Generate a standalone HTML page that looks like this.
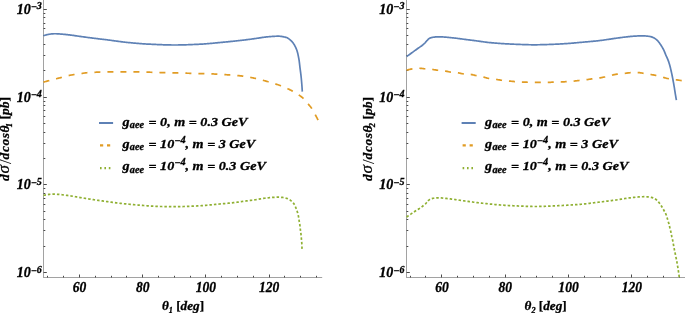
<!DOCTYPE html>
<html><head><meta charset="utf-8"><title>plot</title>
<style>
html,body{margin:0;padding:0;background:#fff;overflow:hidden}
svg{display:block}
text{font-family:"Liberation Serif","DejaVu Serif",serif;font-weight:bold;font-style:italic;fill:#000;stroke:#000;stroke-width:0.3px}
.u{font-style:normal;stroke-width:0.25px}
.ls1{letter-spacing:0.5px}
.rg{font-weight:normal;stroke-width:0.2px}
.sl{font-weight:normal;font-style:normal;stroke-width:0.1px}
.ax path{stroke:#a2a2a2;stroke-width:1;fill:none}
.ax .tk path{stroke:#4a4a4a}
</style></head><body>
<svg width="685" height="313" viewBox="0 0 685 313">
<rect width="685" height="313" fill="#fff"/>
<g class="ax">
<g><path d="M43.50,0 V278.00" />
<path d="M43.00,277.50 H322.20" /></g>
<g class="tk"><path d="M43.50,272.50 h3.3" />
<path d="M43.50,246.50 h1.8" />
<path d="M43.50,230.50 h1.8" />
<path d="M43.50,219.50 h1.8" />
<path d="M43.50,211.50 h1.8" />
<path d="M43.50,204.50 h1.8" />
<path d="M43.50,198.50 h1.8" />
<path d="M43.50,193.50 h1.8" />
<path d="M43.50,188.50 h1.8" />
<path d="M43.50,184.50 h3.3" />
<path d="M43.50,158.50 h1.8" />
<path d="M43.50,143.50 h1.8" />
<path d="M43.50,132.50 h1.8" />
<path d="M43.50,123.50 h1.8" />
<path d="M43.50,116.50 h1.8" />
<path d="M43.50,110.50 h1.8" />
<path d="M43.50,105.50 h1.8" />
<path d="M43.50,101.50 h1.8" />
<path d="M43.50,97.50 h3.3" />
<path d="M43.50,70.50 h1.8" />
<path d="M43.50,55.50 h1.8" />
<path d="M43.50,44.50 h1.8" />
<path d="M43.50,35.50 h1.8" />
<path d="M43.50,28.50 h1.8" />
<path d="M43.50,23.50 h1.8" />
<path d="M43.50,17.50 h1.8" />
<path d="M43.50,13.50 h1.8" />
<path d="M43.50,9.50 h3.3" />
<path d="M47.50,277.50 v-1.7" />
<path d="M63.50,277.50 v-1.7" />
<path d="M79.50,277.50 v-3.0" />
<path d="M95.50,277.50 v-1.7" />
<path d="M111.50,277.50 v-1.7" />
<path d="M126.50,277.50 v-1.7" />
<path d="M142.50,277.50 v-3.0" />
<path d="M158.50,277.50 v-1.7" />
<path d="M174.50,277.50 v-1.7" />
<path d="M190.50,277.50 v-1.7" />
<path d="M205.50,277.50 v-3.0" />
<path d="M221.50,277.50 v-1.7" />
<path d="M237.50,277.50 v-1.7" />
<path d="M253.50,277.50 v-1.7" />
<path d="M269.50,277.50 v-3.0" />
<path d="M284.50,277.50 v-1.7" />
<path d="M300.50,277.50 v-1.7" />
<path d="M316.50,277.50 v-1.7" /></g>
<g><path d="M406.50,0 V278.00" />
<path d="M406.00,277.50 H685.00" /></g>
<g class="tk"><path d="M406.50,272.50 h3.3" />
<path d="M406.50,246.50 h1.8" />
<path d="M406.50,230.50 h1.8" />
<path d="M406.50,219.50 h1.8" />
<path d="M406.50,211.50 h1.8" />
<path d="M406.50,204.50 h1.8" />
<path d="M406.50,198.50 h1.8" />
<path d="M406.50,193.50 h1.8" />
<path d="M406.50,188.50 h1.8" />
<path d="M406.50,184.50 h3.3" />
<path d="M406.50,158.50 h1.8" />
<path d="M406.50,143.50 h1.8" />
<path d="M406.50,132.50 h1.8" />
<path d="M406.50,123.50 h1.8" />
<path d="M406.50,116.50 h1.8" />
<path d="M406.50,110.50 h1.8" />
<path d="M406.50,105.50 h1.8" />
<path d="M406.50,101.50 h1.8" />
<path d="M406.50,97.50 h3.3" />
<path d="M406.50,70.50 h1.8" />
<path d="M406.50,55.50 h1.8" />
<path d="M406.50,44.50 h1.8" />
<path d="M406.50,35.50 h1.8" />
<path d="M406.50,28.50 h1.8" />
<path d="M406.50,23.50 h1.8" />
<path d="M406.50,17.50 h1.8" />
<path d="M406.50,13.50 h1.8" />
<path d="M406.50,9.50 h3.3" />
<path d="M410.50,277.50 v-1.7" />
<path d="M425.50,277.50 v-1.7" />
<path d="M441.50,277.50 v-3.0" />
<path d="M457.50,277.50 v-1.7" />
<path d="M473.50,277.50 v-1.7" />
<path d="M489.50,277.50 v-1.7" />
<path d="M505.50,277.50 v-3.0" />
<path d="M520.50,277.50 v-1.7" />
<path d="M536.50,277.50 v-1.7" />
<path d="M552.50,277.50 v-1.7" />
<path d="M568.50,277.50 v-3.0" />
<path d="M584.50,277.50 v-1.7" />
<path d="M600.50,277.50 v-1.7" />
<path d="M615.50,277.50 v-1.7" />
<path d="M631.50,277.50 v-3.0" />
<path d="M647.50,277.50 v-1.7" />
<path d="M663.50,277.50 v-1.7" />
<path d="M679.50,277.50 v-1.7" /></g>
</g>
<g>
<path d="M43.50,35.80 L44.22,35.53 L44.94,35.28 L45.66,35.05 L46.39,34.85 L47.12,34.67 L47.86,34.51 L48.61,34.36 L49.36,34.22 L50.11,34.10 L50.86,34.01 L51.62,33.94 L52.38,33.87 L53.13,33.82 L53.89,33.77 L54.65,33.75 L55.41,33.75 L56.17,33.77 L56.93,33.81 L57.69,33.85 L58.45,33.90 L59.20,33.95 L59.96,34.00 L60.72,34.05 L61.47,34.11 L62.23,34.17 L62.99,34.23 L63.74,34.31 L64.50,34.38 L65.26,34.46 L66.01,34.54 L66.77,34.63 L67.52,34.71 L68.28,34.80 L69.03,34.89 L69.78,34.97 L70.54,35.06 L71.29,35.16 L72.04,35.26 L72.80,35.36 L73.55,35.46 L74.30,35.57 L75.05,35.68 L75.80,35.79 L76.55,35.90 L77.30,36.01 L78.06,36.12 L78.81,36.23 L79.56,36.34 L80.31,36.44 L81.06,36.55 L81.82,36.65 L82.57,36.75 L83.32,36.85 L84.07,36.96 L84.83,37.06 L85.58,37.16 L86.33,37.26 L87.08,37.36 L87.84,37.47 L88.59,37.57 L89.34,37.67 L90.09,37.76 L90.85,37.86 L91.60,37.96 L92.35,38.06 L93.11,38.15 L93.86,38.25 L94.61,38.34 L95.37,38.43 L96.12,38.52 L96.87,38.61 L97.63,38.70 L98.38,38.79 L99.14,38.88 L99.89,38.97 L100.64,39.06 L101.40,39.15 L102.15,39.24 L102.91,39.33 L103.66,39.42 L104.41,39.51 L105.17,39.60 L105.92,39.69 L106.68,39.78 L107.43,39.88 L108.18,39.98 L108.94,40.08 L109.69,40.18 L110.44,40.28 L111.19,40.38 L111.95,40.48 L112.70,40.59 L113.45,40.69 L114.20,40.80 L114.96,40.90 L115.71,41.00 L116.46,41.11 L117.21,41.21 L117.97,41.31 L118.72,41.42 L119.47,41.52 L120.23,41.61 L120.98,41.71 L121.73,41.81 L122.48,41.90 L123.24,41.99 L123.99,42.08 L124.75,42.17 L125.50,42.25 L126.25,42.33 L127.01,42.41 L127.76,42.49 L128.52,42.56 L129.27,42.63 L130.03,42.70 L130.79,42.77 L131.54,42.84 L132.30,42.91 L133.05,42.98 L133.81,43.05 L134.57,43.12 L135.32,43.19 L136.08,43.25 L136.84,43.31 L137.59,43.38 L138.35,43.44 L139.11,43.50 L139.87,43.56 L140.62,43.62 L141.38,43.68 L142.14,43.73 L142.90,43.78 L143.65,43.84 L144.41,43.89 L145.17,43.94 L145.93,43.98 L146.69,44.03 L147.44,44.07 L148.20,44.11 L148.96,44.15 L149.72,44.19 L150.48,44.22 L151.23,44.26 L151.99,44.29 L152.75,44.33 L153.51,44.36 L154.27,44.40 L155.03,44.43 L155.78,44.47 L156.54,44.50 L157.30,44.54 L158.06,44.57 L158.82,44.60 L159.58,44.63 L160.34,44.67 L161.10,44.70 L161.86,44.72 L162.62,44.75 L163.37,44.78 L164.13,44.81 L164.89,44.83 L165.65,44.85 L166.41,44.88 L167.17,44.90 L167.93,44.92 L168.69,44.93 L169.45,44.95 L170.21,44.96 L170.97,44.97 L171.73,44.98 L172.48,44.99 L173.24,45.00 L174.00,45.00 L174.76,45.00 L175.52,45.00 L176.28,44.99 L177.04,44.99 L177.80,44.98 L178.56,44.97 L179.32,44.96 L180.08,44.95 L180.83,44.93 L181.59,44.92 L182.35,44.90 L183.11,44.88 L183.87,44.86 L184.63,44.84 L185.39,44.81 L186.15,44.79 L186.91,44.76 L187.67,44.73 L188.43,44.71 L189.19,44.68 L189.95,44.65 L190.70,44.62 L191.46,44.59 L192.22,44.55 L192.98,44.52 L193.74,44.49 L194.50,44.45 L195.26,44.42 L196.02,44.38 L196.77,44.35 L197.53,44.31 L198.29,44.28 L199.05,44.24 L199.81,44.21 L200.56,44.17 L201.32,44.13 L202.08,44.09 L202.84,44.04 L203.59,43.99 L204.35,43.94 L205.11,43.89 L205.87,43.83 L206.62,43.77 L207.38,43.71 L208.14,43.65 L208.89,43.58 L209.65,43.51 L210.41,43.44 L211.16,43.38 L211.92,43.30 L212.68,43.23 L213.43,43.16 L214.19,43.09 L214.94,43.01 L215.70,42.94 L216.46,42.87 L217.21,42.79 L217.97,42.72 L218.72,42.65 L219.48,42.58 L220.24,42.51 L220.99,42.44 L221.75,42.36 L222.50,42.29 L223.26,42.22 L224.02,42.15 L224.77,42.07 L225.53,42.00 L226.28,41.93 L227.04,41.85 L227.79,41.78 L228.55,41.70 L229.31,41.62 L230.06,41.55 L230.82,41.47 L231.57,41.39 L232.33,41.31 L233.08,41.23 L233.84,41.15 L234.59,41.07 L235.35,40.99 L236.10,40.91 L236.86,40.83 L237.61,40.75 L238.37,40.66 L239.12,40.58 L239.88,40.49 L240.63,40.41 L241.39,40.32 L242.14,40.24 L242.89,40.15 L243.65,40.06 L244.40,39.97 L245.16,39.88 L245.91,39.79 L246.66,39.70 L247.42,39.61 L248.17,39.52 L248.92,39.42 L249.68,39.32 L250.43,39.22 L251.18,39.12 L251.93,39.02 L252.69,38.92 L253.44,38.81 L254.19,38.71 L254.94,38.61 L255.70,38.50 L256.45,38.39 L257.20,38.28 L257.95,38.16 L258.70,38.04 L259.45,37.92 L260.20,37.80 L260.95,37.69 L261.71,37.57 L262.46,37.45 L263.21,37.34 L263.96,37.24 L264.71,37.14 L265.46,37.04 L266.22,36.96 L266.97,36.88 L267.73,36.81 L268.48,36.75 L269.24,36.69 L270.00,36.62 L270.75,36.56 L271.51,36.50 L272.27,36.45 L273.03,36.39 L273.79,36.34 L274.55,36.30 L275.31,36.26 L276.07,36.24 L276.83,36.21 L277.58,36.20 L278.34,36.20 L279.10,36.22 L279.87,36.27 L280.64,36.34 L281.41,36.44 L282.18,36.55 L282.94,36.68 L283.69,36.82 L284.43,36.98 L285.15,37.14 L285.85,37.31 L286.54,37.54 L287.23,37.84 L287.91,38.21 L288.57,38.64 L289.22,39.10 L289.84,39.59 L290.42,40.09 L290.98,40.58 L291.50,41.09 L292.01,41.64 L292.51,42.22 L292.98,42.83 L293.43,43.47 L293.86,44.12 L294.27,44.77 L294.65,45.43 L295.00,46.08 L295.35,46.75 L295.68,47.44 L295.99,48.13 L296.29,48.84 L296.58,49.55 L296.84,50.27 L297.09,50.99 L297.32,51.72 L297.52,52.44 L297.71,53.17 L297.87,53.92 L298.03,54.66 L298.18,55.41 L298.33,56.15 L298.48,56.90 L298.62,57.64 L298.77,58.39 L298.90,59.14 L299.03,59.89 L299.15,60.64 L299.25,61.39 L299.35,62.14 L299.44,62.89 L299.53,63.65 L299.61,64.40 L299.70,65.16 L299.78,65.91 L299.86,66.67 L299.95,67.42 L300.04,68.18 L300.14,68.93 L300.24,69.68 L300.34,70.44 L300.44,71.19 L300.54,71.94 L300.64,72.69 L300.73,73.45 L300.82,74.20 L300.91,74.95 L301.00,75.71 L301.08,76.46 L301.16,77.22 L301.24,77.97 L301.32,78.73 L301.39,79.49 L301.46,80.24 L301.53,81.00 L301.59,81.75 L301.66,82.51 L301.72,83.27 L301.78,84.02 L301.84,84.78 L301.90,85.54 L301.96,86.29 L302.01,87.05 L302.06,87.81 L302.12,88.57 L302.17,89.33 L302.21,90.08 L302.26,90.84 L302.30,91.60" stroke="#5E81B5" stroke-width="1.7" fill="none" stroke-linejoin="round"/>
<path d="M43.50,82.10 L44.21,81.90 L44.93,81.71 L45.64,81.52 L46.36,81.32 L47.07,81.13 L47.79,80.94 L48.50,80.75 L49.22,80.56 L49.93,80.38 L50.65,80.19 L51.37,80.01 L52.08,79.82 L52.80,79.64 L53.52,79.46 L54.23,79.28 L54.95,79.09 L55.67,78.91 L56.39,78.73 L57.10,78.54 L57.82,78.36 L58.54,78.18 L59.25,78.00 L59.97,77.82 L60.69,77.63 L61.41,77.45 L62.12,77.26 L62.84,77.07 L63.55,76.88 L64.27,76.68 L64.98,76.48 L65.69,76.29 L66.41,76.10 L67.13,75.92 L67.85,75.75 L68.57,75.59 L69.29,75.43 L70.02,75.28 L70.74,75.14 L71.47,75.00 L72.20,74.87 L72.93,74.74 L73.66,74.62 L74.39,74.50 L75.12,74.39 L75.85,74.29 L76.58,74.19 L77.32,74.09 L78.05,74.00 L78.79,73.90 L79.52,73.81 L80.25,73.71 L80.99,73.62 L81.72,73.51 L82.45,73.39 L83.18,73.27 L83.92,73.15 L84.65,73.03 L85.38,72.92 L86.11,72.82 L86.85,72.74 L87.58,72.68 L88.32,72.63 L89.06,72.59 L89.79,72.55 L90.53,72.52 L91.27,72.48 L92.01,72.45 L92.75,72.42 L93.49,72.39 L94.23,72.35 L94.97,72.31 L95.71,72.26 L96.45,72.21 L97.19,72.16 L97.93,72.12 L98.67,72.07 L99.40,72.04 L100.14,72.00 L100.88,71.97 L101.62,71.94 L102.36,71.91 L103.10,71.89 L103.84,71.86 L104.58,71.84 L105.32,71.82 L106.06,71.81 L106.80,71.80 L107.54,71.80 L108.28,71.80 L109.02,71.80 L109.76,71.80 L110.50,71.80 L111.24,71.80 L111.98,71.80 L112.72,71.80 L113.46,71.80 L114.20,71.80 L114.94,71.80 L115.68,71.80 L116.42,71.80 L117.16,71.80 L117.90,71.80 L118.64,71.80 L119.38,71.80 L120.12,71.80 L120.86,71.80 L121.60,71.80 L122.34,71.80 L123.08,71.80 L123.82,71.80 L124.56,71.80 L125.30,71.80 L126.04,71.81 L126.78,71.81 L127.52,71.82 L128.26,71.82 L129.00,71.83 L129.74,71.83 L130.48,71.84 L131.22,71.85 L131.96,71.85 L132.70,71.86 L133.44,71.87 L134.18,71.88 L134.92,71.89 L135.66,71.90 L136.40,71.90 L137.14,71.92 L137.88,71.93 L138.62,71.94 L139.36,71.95 L140.10,71.97 L140.84,71.99 L141.58,72.00 L142.32,72.02 L143.06,72.04 L143.80,72.06 L144.54,72.08 L145.28,72.10 L146.02,72.12 L146.76,72.14 L147.50,72.16 L148.24,72.18 L148.98,72.20 L149.72,72.22 L150.46,72.24 L151.20,72.26 L151.94,72.28 L152.68,72.31 L153.42,72.33 L154.16,72.36 L154.89,72.38 L155.63,72.40 L156.37,72.43 L157.11,72.45 L157.85,72.48 L158.59,72.50 L159.33,72.52 L160.07,72.55 L160.81,72.57 L161.55,72.59 L162.29,72.61 L163.03,72.63 L163.77,72.64 L164.51,72.66 L165.25,72.68 L165.99,72.70 L166.73,72.71 L167.47,72.73 L168.21,72.75 L168.95,72.76 L169.69,72.78 L170.43,72.79 L171.17,72.81 L171.91,72.83 L172.65,72.84 L173.39,72.86 L174.13,72.88 L174.87,72.90 L175.61,72.92 L176.35,72.93 L177.09,72.95 L177.83,72.97 L178.57,72.99 L179.31,73.01 L180.05,73.03 L180.79,73.05 L181.53,73.07 L182.27,73.09 L183.01,73.11 L183.75,73.13 L184.49,73.15 L185.22,73.17 L185.96,73.19 L186.70,73.21 L187.44,73.23 L188.18,73.25 L188.92,73.27 L189.66,73.29 L190.40,73.31 L191.14,73.33 L191.88,73.35 L192.62,73.37 L193.36,73.39 L194.10,73.41 L194.84,73.43 L195.58,73.45 L196.32,73.47 L197.06,73.49 L197.80,73.51 L198.54,73.53 L199.28,73.55 L200.02,73.57 L200.76,73.59 L201.50,73.61 L202.24,73.63 L202.98,73.66 L203.72,73.68 L204.46,73.70 L205.20,73.72 L205.94,73.74 L206.68,73.76 L207.42,73.78 L208.16,73.80 L208.90,73.82 L209.64,73.84 L210.38,73.87 L211.12,73.89 L211.86,73.92 L212.59,73.95 L213.33,73.97 L214.07,74.00 L214.81,74.04 L215.55,74.07 L216.29,74.11 L217.03,74.15 L217.77,74.19 L218.51,74.23 L219.25,74.28 L219.98,74.32 L220.72,74.37 L221.46,74.42 L222.20,74.47 L222.94,74.52 L223.68,74.57 L224.42,74.62 L225.15,74.67 L225.89,74.72 L226.63,74.77 L227.37,74.83 L228.11,74.87 L228.85,74.92 L229.58,74.97 L230.32,75.02 L231.06,75.07 L231.80,75.12 L232.54,75.17 L233.28,75.23 L234.02,75.28 L234.76,75.33 L235.49,75.39 L236.23,75.45 L236.97,75.51 L237.71,75.58 L238.44,75.65 L239.18,75.72 L239.91,75.79 L240.65,75.87 L241.38,75.96 L242.11,76.05 L242.85,76.14 L243.58,76.25 L244.31,76.35 L245.05,76.47 L245.78,76.58 L246.51,76.70 L247.24,76.83 L247.97,76.95 L248.70,77.09 L249.43,77.22 L250.16,77.35 L250.88,77.49 L251.61,77.63 L252.34,77.77 L253.06,77.91 L253.79,78.06 L254.51,78.21 L255.23,78.36 L255.95,78.53 L256.67,78.69 L257.39,78.86 L258.11,79.04 L258.83,79.22 L259.55,79.40 L260.27,79.58 L260.99,79.77 L261.70,79.96 L262.42,80.15 L263.13,80.34 L263.85,80.53 L264.56,80.73 L265.28,80.92 L265.99,81.12 L266.70,81.31 L267.42,81.51 L268.13,81.71 L268.84,81.91 L269.55,82.12 L270.27,82.33 L270.98,82.54 L271.69,82.75 L272.40,82.96 L273.10,83.18 L273.81,83.40 L274.52,83.63 L275.22,83.86 L275.92,84.09 L276.62,84.32 L277.32,84.56 L278.02,84.81 L278.71,85.05 L279.41,85.31 L280.10,85.56 L280.80,85.82 L281.49,86.09 L282.18,86.36 L282.87,86.63 L283.56,86.91 L284.24,87.20 L284.93,87.48 L285.61,87.78 L286.29,88.07 L286.97,88.37 L287.64,88.68 L288.31,88.99 L288.98,89.30 L289.64,89.62 L290.30,89.95 L290.96,90.28 L291.62,90.62 L292.27,90.96 L292.93,91.32 L293.58,91.68 L294.22,92.04 L294.87,92.42 L295.50,92.80 L296.14,93.18 L296.77,93.57 L297.39,93.97 L298.01,94.37 L298.62,94.78 L299.23,95.20 L299.84,95.63 L300.44,96.07 L301.03,96.52 L301.62,96.98 L302.18,97.45 L302.73,97.94 L303.26,98.44 L303.78,98.96 L304.29,99.50 L304.78,100.05 L305.27,100.61 L305.75,101.18 L306.23,101.75 L306.70,102.32 L307.18,102.89 L307.66,103.46 L308.15,104.01 L308.64,104.57 L309.13,105.13 L309.62,105.69 L310.09,106.26 L310.56,106.83 L311.00,107.42 L311.42,108.02 L311.83,108.63 L312.22,109.26 L312.60,109.89 L312.97,110.53 L313.34,111.18 L313.70,111.83 L314.06,112.48 L314.41,113.13 L314.77,113.78 L315.13,114.43 L315.48,115.08 L315.84,115.73 L316.19,116.38 L316.53,117.04 L316.88,117.69 L317.22,118.35 L317.55,119.01 L317.89,119.67 L318.22,120.33 L318.54,121.00 L318.86,121.66 L319.18,122.33 L319.50,123.00" stroke="#E19C24" stroke-width="1.7" stroke-dasharray="6 7" fill="none"/>
<path d="M43.50,195.40 L44.25,195.23 L44.99,195.08 L45.74,194.93 L46.49,194.79 L47.23,194.66 L47.98,194.54 L48.73,194.44 L49.47,194.34 L50.22,194.26 L50.97,194.20 L51.72,194.15 L52.46,194.12 L53.21,194.10 L53.96,194.10 L54.71,194.12 L55.46,194.15 L56.21,194.18 L56.96,194.23 L57.71,194.29 L58.46,194.36 L59.21,194.43 L59.97,194.51 L60.72,194.60 L61.47,194.69 L62.22,194.78 L62.97,194.88 L63.72,194.98 L64.47,195.08 L65.22,195.18 L65.97,195.27 L66.71,195.37 L67.46,195.46 L68.21,195.55 L68.95,195.66 L69.70,195.77 L70.44,195.88 L71.19,196.00 L71.93,196.12 L72.67,196.25 L73.42,196.37 L74.16,196.50 L74.90,196.63 L75.64,196.77 L76.39,196.90 L77.13,197.03 L77.87,197.16 L78.62,197.29 L79.36,197.41 L80.10,197.54 L80.85,197.66 L81.59,197.78 L82.33,197.90 L83.08,198.02 L83.82,198.14 L84.56,198.26 L85.31,198.38 L86.05,198.50 L86.80,198.62 L87.54,198.74 L88.28,198.86 L89.03,198.98 L89.77,199.09 L90.52,199.21 L91.26,199.33 L92.01,199.44 L92.75,199.56 L93.50,199.67 L94.24,199.78 L94.99,199.89 L95.73,200.00 L96.48,200.11 L97.22,200.22 L97.97,200.33 L98.71,200.43 L99.46,200.54 L100.21,200.65 L100.95,200.75 L101.70,200.85 L102.45,200.96 L103.19,201.06 L103.94,201.17 L104.68,201.27 L105.43,201.37 L106.18,201.47 L106.92,201.58 L107.67,201.68 L108.42,201.78 L109.16,201.88 L109.91,201.99 L110.66,202.09 L111.40,202.19 L112.15,202.30 L112.90,202.40 L113.64,202.50 L114.39,202.60 L115.14,202.70 L115.88,202.80 L116.63,202.89 L117.38,202.99 L118.13,203.08 L118.87,203.17 L119.62,203.26 L120.37,203.34 L121.12,203.43 L121.87,203.51 L122.62,203.59 L123.37,203.67 L124.12,203.75 L124.87,203.82 L125.62,203.90 L126.37,203.97 L127.12,204.05 L127.87,204.12 L128.62,204.19 L129.37,204.27 L130.12,204.34 L130.87,204.41 L131.62,204.48 L132.37,204.54 L133.12,204.61 L133.87,204.68 L134.62,204.75 L135.37,204.81 L136.12,204.88 L136.87,204.95 L137.62,205.01 L138.37,205.08 L139.12,205.15 L139.87,205.21 L140.62,205.27 L141.38,205.34 L142.13,205.40 L142.88,205.46 L143.63,205.52 L144.38,205.58 L145.13,205.63 L145.88,205.69 L146.63,205.74 L147.39,205.79 L148.14,205.83 L148.89,205.88 L149.64,205.93 L150.39,205.98 L151.15,206.03 L151.90,206.07 L152.65,206.12 L153.40,206.16 L154.16,206.21 L154.91,206.25 L155.66,206.29 L156.41,206.33 L157.17,206.36 L157.92,206.39 L158.67,206.42 L159.42,206.45 L160.18,206.48 L160.93,206.50 L161.68,206.51 L162.44,206.53 L163.19,206.55 L163.94,206.57 L164.70,206.58 L165.45,206.60 L166.20,206.61 L166.96,206.63 L167.71,206.64 L168.46,206.65 L169.22,206.66 L169.97,206.67 L170.72,206.68 L171.48,206.69 L172.23,206.69 L172.98,206.70 L173.74,206.70 L174.49,206.70 L175.24,206.70 L176.00,206.69 L176.75,206.68 L177.51,206.67 L178.26,206.65 L179.01,206.64 L179.77,206.62 L180.52,206.60 L181.27,206.58 L182.03,206.55 L182.78,206.53 L183.53,206.50 L184.28,206.48 L185.04,206.45 L185.79,206.43 L186.54,206.40 L187.30,206.38 L188.05,206.35 L188.80,206.33 L189.56,206.30 L190.31,206.27 L191.06,206.24 L191.82,206.21 L192.57,206.18 L193.32,206.15 L194.07,206.12 L194.83,206.08 L195.58,206.04 L196.33,206.01 L197.09,205.97 L197.84,205.92 L198.59,205.88 L199.34,205.84 L200.09,205.79 L200.84,205.75 L201.60,205.69 L202.35,205.64 L203.10,205.58 L203.85,205.52 L204.60,205.45 L205.35,205.39 L206.10,205.32 L206.85,205.24 L207.60,205.17 L208.35,205.10 L209.10,205.02 L209.85,204.95 L210.60,204.87 L211.35,204.80 L212.10,204.72 L212.85,204.65 L213.60,204.57 L214.35,204.50 L215.10,204.43 L215.85,204.36 L216.60,204.29 L217.35,204.22 L218.10,204.15 L218.85,204.09 L219.60,204.02 L220.35,203.95 L221.11,203.89 L221.86,203.82 L222.61,203.75 L223.36,203.68 L224.11,203.62 L224.86,203.55 L225.61,203.48 L226.36,203.41 L227.11,203.34 L227.86,203.26 L228.61,203.19 L229.36,203.11 L230.11,203.04 L230.86,202.96 L231.61,202.88 L232.36,202.80 L233.10,202.72 L233.85,202.63 L234.60,202.54 L235.35,202.45 L236.09,202.35 L236.84,202.25 L237.59,202.15 L238.34,202.05 L239.08,201.95 L239.83,201.85 L240.57,201.74 L241.32,201.64 L242.07,201.53 L242.81,201.43 L243.56,201.32 L244.31,201.22 L245.05,201.12 L245.80,201.02 L246.55,200.92 L247.29,200.82 L248.04,200.72 L248.79,200.63 L249.54,200.53 L250.28,200.44 L251.03,200.34 L251.78,200.24 L252.53,200.15 L253.27,200.04 L254.02,199.94 L254.76,199.83 L255.51,199.72 L256.25,199.60 L257.00,199.48 L257.74,199.35 L258.48,199.22 L259.22,199.08 L259.97,198.95 L260.71,198.82 L261.45,198.69 L262.19,198.57 L262.94,198.45 L263.68,198.34 L264.43,198.24 L265.18,198.15 L265.92,198.06 L266.67,197.98 L267.42,197.90 L268.17,197.82 L268.92,197.75 L269.67,197.67 L270.42,197.60 L271.17,197.53 L271.92,197.47 L272.68,197.41 L273.43,197.36 L274.18,197.32 L274.93,197.27 L275.69,197.23 L276.44,197.19 L277.19,197.16 L277.94,197.15 L278.70,197.16 L279.45,197.19 L280.21,197.23 L280.96,197.29 L281.71,197.36 L282.46,197.44 L283.20,197.53 L283.95,197.65 L284.70,197.81 L285.44,197.99 L286.16,198.20 L286.87,198.42 L287.57,198.67 L288.26,198.98 L288.93,199.33 L289.60,199.73 L290.23,200.15 L290.84,200.58 L291.42,201.04 L292.00,201.54 L292.55,202.08 L293.06,202.64 L293.54,203.23 L293.95,203.83 L294.33,204.47 L294.68,205.13 L295.01,205.82 L295.32,206.52 L295.62,207.22 L295.91,207.92 L296.20,208.62 L296.47,209.32 L296.74,210.03 L297.00,210.74 L297.23,211.45 L297.45,212.17 L297.66,212.89 L297.85,213.62 L298.03,214.36 L298.21,215.09 L298.37,215.83 L298.51,216.57 L298.64,217.31 L298.76,218.05 L298.87,218.80 L298.98,219.54 L299.09,220.29 L299.21,221.03 L299.33,221.78 L299.46,222.52 L299.58,223.26 L299.71,224.01 L299.82,224.75 L299.93,225.50 L300.02,226.24 L300.10,226.99 L300.18,227.74 L300.25,228.49 L300.33,229.24 L300.42,229.99 L300.52,230.74 L300.63,231.48 L300.73,232.23 L300.84,232.98 L300.93,233.72 L301.02,234.47 L301.09,235.22 L301.16,235.97 L301.22,236.72 L301.29,237.47 L301.35,238.22 L301.42,238.98 L301.49,239.73 L301.56,240.48 L301.63,241.23 L301.70,241.98 L301.76,242.73 L301.81,243.48 L301.85,244.23 L301.88,244.98 L301.91,245.74 L301.94,246.49 L301.97,247.24 L302.01,248.00 L302.05,248.75 L302.10,249.50" stroke="#8FB032" stroke-width="1.7" stroke-dasharray="2.5 2.01" fill="none"/>
<path d="M406.60,56.60 L407.26,56.13 L407.91,55.65 L408.57,55.18 L409.23,54.71 L409.88,54.23 L410.54,53.76 L411.19,53.28 L411.84,52.80 L412.50,52.33 L413.15,51.85 L413.80,51.37 L414.46,50.89 L415.11,50.41 L415.76,49.94 L416.42,49.46 L417.09,49.00 L417.76,48.53 L418.43,48.07 L419.10,47.61 L419.77,47.14 L420.44,46.67 L421.09,46.20 L421.74,45.72 L422.38,45.22 L423.01,44.72 L423.62,44.20 L424.22,43.67 L424.79,43.11 L425.33,42.51 L425.85,41.89 L426.38,41.27 L426.93,40.67 L427.50,40.08 L428.07,39.46 L428.67,38.88 L429.30,38.41 L429.98,38.08 L430.73,37.81 L431.52,37.57 L432.33,37.38 L433.14,37.24 L433.94,37.13 L434.74,37.04 L435.54,36.96 L436.35,36.89 L437.17,36.84 L437.98,36.81 L438.78,36.80 L439.59,36.81 L440.40,36.83 L441.21,36.86 L442.02,36.90 L442.82,36.95 L443.63,37.00 L444.44,37.06 L445.25,37.13 L446.05,37.20 L446.86,37.27 L447.67,37.35 L448.48,37.42 L449.28,37.50 L450.09,37.58 L450.89,37.65 L451.70,37.73 L452.50,37.81 L453.31,37.89 L454.11,37.98 L454.92,38.07 L455.72,38.17 L456.52,38.27 L457.33,38.37 L458.13,38.48 L458.93,38.58 L459.73,38.69 L460.54,38.80 L461.34,38.91 L462.14,39.02 L462.94,39.12 L463.75,39.23 L464.55,39.33 L465.35,39.43 L466.15,39.54 L466.96,39.64 L467.76,39.74 L468.56,39.84 L469.37,39.95 L470.17,40.05 L470.97,40.15 L471.77,40.26 L472.58,40.36 L473.38,40.46 L474.18,40.57 L474.98,40.67 L475.79,40.78 L476.59,40.88 L477.39,40.99 L478.19,41.10 L478.99,41.21 L479.80,41.32 L480.60,41.43 L481.40,41.55 L482.20,41.66 L483.00,41.77 L483.80,41.88 L484.61,41.99 L485.41,42.09 L486.21,42.19 L487.01,42.29 L487.82,42.38 L488.62,42.47 L489.43,42.55 L490.23,42.63 L491.04,42.71 L491.84,42.79 L492.65,42.86 L493.46,42.94 L494.26,43.01 L495.07,43.08 L495.88,43.15 L496.68,43.21 L497.49,43.27 L498.30,43.33 L499.10,43.39 L499.91,43.44 L500.72,43.49 L501.52,43.55 L502.33,43.60 L503.14,43.65 L503.95,43.70 L504.76,43.74 L505.56,43.79 L506.37,43.84 L507.18,43.88 L507.99,43.93 L508.80,43.97 L509.60,44.01 L510.41,44.05 L511.22,44.09 L512.03,44.13 L512.84,44.17 L513.65,44.21 L514.46,44.24 L515.26,44.27 L516.07,44.31 L516.88,44.34 L517.69,44.37 L518.50,44.40 L519.31,44.42 L520.12,44.45 L520.92,44.48 L521.73,44.51 L522.54,44.54 L523.35,44.57 L524.16,44.60 L524.97,44.62 L525.78,44.65 L526.59,44.67 L527.40,44.70 L528.21,44.72 L529.01,44.74 L529.82,44.76 L530.63,44.77 L531.44,44.78 L532.25,44.79 L533.06,44.80 L533.87,44.80 L534.68,44.80 L535.49,44.79 L536.30,44.79 L537.11,44.78 L537.91,44.77 L538.72,44.75 L539.53,44.74 L540.34,44.72 L541.15,44.70 L541.96,44.68 L542.77,44.66 L543.58,44.63 L544.39,44.61 L545.20,44.58 L546.01,44.56 L546.81,44.53 L547.62,44.50 L548.43,44.48 L549.24,44.45 L550.05,44.42 L550.86,44.39 L551.67,44.37 L552.48,44.34 L553.28,44.31 L554.09,44.27 L554.90,44.24 L555.71,44.20 L556.52,44.17 L557.33,44.13 L558.14,44.09 L558.94,44.04 L559.75,44.00 L560.56,43.96 L561.37,43.91 L562.18,43.87 L562.98,43.82 L563.79,43.77 L564.60,43.72 L565.41,43.67 L566.22,43.62 L567.02,43.56 L567.83,43.51 L568.64,43.46 L569.44,43.40 L570.25,43.33 L571.06,43.27 L571.86,43.20 L572.67,43.12 L573.47,43.05 L574.28,42.97 L575.09,42.90 L575.89,42.82 L576.70,42.74 L577.50,42.67 L578.31,42.59 L579.12,42.52 L579.92,42.44 L580.73,42.37 L581.53,42.30 L582.34,42.23 L583.15,42.16 L583.95,42.09 L584.76,42.02 L585.57,41.95 L586.37,41.88 L587.18,41.81 L587.99,41.74 L588.79,41.67 L589.60,41.59 L590.40,41.52 L591.21,41.45 L592.02,41.37 L592.82,41.30 L593.63,41.22 L594.43,41.14 L595.24,41.06 L596.04,40.98 L596.85,40.89 L597.65,40.80 L598.45,40.72 L599.26,40.62 L600.06,40.53 L600.86,40.43 L601.67,40.33 L602.47,40.22 L603.27,40.11 L604.07,40.00 L604.87,39.88 L605.67,39.77 L606.47,39.65 L607.27,39.53 L608.07,39.41 L608.87,39.29 L609.67,39.17 L610.48,39.05 L611.28,38.93 L612.08,38.81 L612.88,38.69 L613.68,38.57 L614.48,38.45 L615.28,38.34 L616.08,38.23 L616.88,38.12 L617.69,38.01 L618.49,37.91 L619.29,37.81 L620.09,37.70 L620.90,37.59 L621.70,37.49 L622.50,37.38 L623.31,37.28 L624.11,37.17 L624.91,37.07 L625.71,36.97 L626.52,36.88 L627.32,36.79 L628.13,36.70 L628.93,36.62 L629.74,36.54 L630.54,36.46 L631.35,36.40 L632.15,36.33 L632.96,36.27 L633.77,36.21 L634.58,36.16 L635.38,36.11 L636.19,36.06 L637.00,36.01 L637.81,35.96 L638.62,35.91 L639.43,35.87 L640.23,35.84 L641.04,35.81 L641.85,35.80 L642.66,35.81 L643.47,35.83 L644.28,35.88 L645.09,35.93 L645.89,36.00 L646.70,36.07 L647.51,36.15 L648.31,36.23 L649.12,36.34 L649.93,36.47 L650.71,36.63 L651.48,36.83 L652.24,37.10 L653.00,37.42 L653.75,37.79 L654.47,38.21 L655.17,38.64 L655.82,39.10 L656.43,39.56 L657.02,40.09 L657.58,40.67 L658.12,41.29 L658.64,41.94 L659.14,42.61 L659.62,43.27 L660.09,43.93 L660.55,44.59 L661.00,45.26 L661.44,45.94 L661.86,46.63 L662.28,47.34 L662.68,48.04 L663.07,48.76 L663.44,49.48 L663.80,50.20 L664.14,50.93 L664.46,51.67 L664.76,52.42 L665.06,53.18 L665.36,53.93 L665.66,54.68 L665.99,55.42 L666.32,56.16 L666.67,56.89 L667.01,57.63 L667.34,58.36 L667.66,59.11 L667.97,59.86 L668.26,60.61 L668.55,61.37 L668.82,62.13 L669.06,62.90 L669.30,63.67 L669.52,64.45 L669.74,65.23 L669.95,66.01 L670.15,66.79 L670.35,67.58 L670.54,68.37 L670.73,69.16 L670.92,69.94 L671.10,70.74 L671.27,71.53 L671.45,72.32 L671.62,73.11 L671.79,73.90 L671.96,74.69 L672.12,75.48 L672.29,76.27 L672.44,77.07 L672.60,77.86 L672.75,78.66 L672.90,79.45 L673.05,80.25 L673.20,81.04 L673.34,81.84 L673.48,82.64 L673.63,83.43 L673.77,84.23 L673.90,85.03 L674.04,85.83 L674.17,86.62 L674.30,87.42 L674.43,88.22 L674.56,89.02 L674.68,89.82 L674.80,90.62 L674.93,91.42 L675.05,92.22 L675.18,93.02 L675.31,93.82 L675.44,94.62 L675.57,95.42 L675.70,96.21 L675.84,97.01 L675.98,97.81 L676.12,98.61 L676.26,99.40 L676.40,100.20" stroke="#5E81B5" stroke-width="1.7" fill="none" stroke-linejoin="round"/>
<path d="M406.60,70.20 L407.27,70.01 L407.95,69.82 L408.62,69.64 L409.30,69.48 L409.98,69.32 L410.66,69.18 L411.35,69.05 L412.03,68.92 L412.72,68.80 L413.41,68.69 L414.10,68.60 L414.79,68.52 L415.49,68.46 L416.18,68.40 L416.88,68.34 L417.57,68.29 L418.27,68.26 L418.97,68.25 L419.66,68.26 L420.36,68.30 L421.05,68.36 L421.75,68.43 L422.44,68.51 L423.14,68.59 L423.83,68.68 L424.52,68.75 L425.22,68.82 L425.91,68.88 L426.61,68.94 L427.31,68.99 L428.00,69.05 L428.70,69.10 L429.39,69.16 L430.09,69.22 L430.78,69.28 L431.47,69.35 L432.17,69.43 L432.86,69.52 L433.55,69.62 L434.24,69.73 L434.92,69.85 L435.61,69.96 L436.30,70.08 L436.99,70.18 L437.68,70.27 L438.38,70.35 L439.07,70.42 L439.76,70.49 L440.46,70.55 L441.16,70.60 L441.85,70.66 L442.55,70.72 L443.24,70.79 L443.93,70.86 L444.63,70.94 L445.31,71.04 L446.00,71.16 L446.69,71.30 L447.37,71.44 L448.05,71.59 L448.74,71.74 L449.42,71.88 L450.11,72.00 L450.79,72.10 L451.49,72.18 L452.18,72.25 L452.87,72.32 L453.57,72.37 L454.27,72.43 L454.96,72.49 L455.66,72.54 L456.35,72.61 L457.05,72.68 L457.74,72.77 L458.42,72.88 L459.11,73.01 L459.79,73.16 L460.48,73.31 L461.16,73.47 L461.84,73.61 L462.53,73.75 L463.21,73.85 L463.90,73.93 L464.60,73.99 L465.29,74.04 L465.99,74.09 L466.69,74.13 L467.39,74.17 L468.08,74.21 L468.78,74.26 L469.48,74.31 L470.17,74.38 L470.86,74.46 L471.54,74.57 L472.22,74.70 L472.91,74.85 L473.59,75.01 L474.27,75.18 L474.95,75.35 L475.63,75.51 L476.31,75.66 L476.99,75.80 L477.68,75.93 L478.36,76.06 L479.05,76.18 L479.74,76.30 L480.42,76.43 L481.11,76.56 L481.80,76.69 L482.48,76.82 L483.16,76.97 L483.84,77.13 L484.51,77.31 L485.19,77.50 L485.86,77.70 L486.53,77.90 L487.20,78.09 L487.87,78.26 L488.55,78.41 L489.23,78.54 L489.92,78.65 L490.61,78.75 L491.30,78.83 L491.99,78.92 L492.69,78.99 L493.38,79.07 L494.08,79.15 L494.77,79.23 L495.46,79.31 L496.16,79.41 L496.85,79.51 L497.54,79.62 L498.22,79.73 L498.91,79.85 L499.60,79.96 L500.29,80.07 L500.98,80.18 L501.67,80.27 L502.36,80.36 L503.05,80.43 L503.75,80.51 L504.44,80.58 L505.13,80.65 L505.83,80.71 L506.52,80.78 L507.22,80.84 L507.91,80.90 L508.61,80.97 L509.30,81.04 L510.00,81.11 L510.69,81.19 L511.38,81.26 L512.08,81.33 L512.77,81.40 L513.47,81.47 L514.16,81.53 L514.86,81.59 L515.55,81.64 L516.25,81.69 L516.94,81.73 L517.64,81.78 L518.33,81.82 L519.03,81.86 L519.73,81.89 L520.42,81.93 L521.12,81.97 L521.82,82.00 L522.51,82.03 L523.21,82.07 L523.91,82.10 L524.60,82.13 L525.30,82.16 L526.00,82.19 L526.70,82.21 L527.39,82.24 L528.09,82.26 L528.79,82.28 L529.48,82.30 L530.18,82.32 L530.88,82.34 L531.58,82.36 L532.27,82.37 L532.97,82.38 L533.67,82.39 L534.36,82.40 L535.06,82.40 L535.76,82.40 L536.46,82.40 L537.15,82.40 L537.85,82.40 L538.55,82.40 L539.25,82.40 L539.94,82.40 L540.64,82.40 L541.34,82.40 L542.04,82.40 L542.73,82.40 L543.43,82.40 L544.13,82.40 L544.83,82.40 L545.53,82.40 L546.22,82.40 L546.92,82.40 L547.62,82.40 L548.31,82.40 L549.01,82.37 L549.71,82.34 L550.40,82.29 L551.10,82.24 L551.80,82.19 L552.49,82.14 L553.19,82.11 L553.89,82.09 L554.58,82.08 L555.28,82.07 L555.98,82.06 L556.68,82.05 L557.37,82.05 L558.07,82.04 L558.77,82.03 L559.47,82.02 L560.16,82.01 L560.86,82.00 L561.56,81.97 L562.25,81.94 L562.95,81.89 L563.64,81.84 L564.34,81.79 L565.04,81.73 L565.73,81.68 L566.43,81.63 L567.12,81.58 L567.82,81.53 L568.51,81.48 L569.21,81.44 L569.91,81.39 L570.60,81.34 L571.30,81.29 L571.99,81.24 L572.69,81.19 L573.38,81.13 L574.08,81.07 L574.77,81.00 L575.47,80.93 L576.16,80.85 L576.85,80.77 L577.55,80.69 L578.24,80.61 L578.93,80.53 L579.62,80.45 L580.32,80.37 L581.01,80.30 L581.70,80.22 L582.40,80.15 L583.09,80.07 L583.79,80.00 L584.48,79.92 L585.17,79.84 L585.86,79.75 L586.55,79.67 L587.25,79.57 L587.94,79.47 L588.63,79.37 L589.31,79.26 L590.00,79.15 L590.69,79.04 L591.38,78.94 L592.07,78.84 L592.76,78.75 L593.46,78.67 L594.15,78.59 L594.84,78.52 L595.54,78.44 L596.23,78.37 L596.93,78.29 L597.62,78.21 L598.31,78.12 L599.00,78.03 L599.69,77.92 L600.38,77.81 L601.06,77.69 L601.75,77.56 L602.43,77.42 L603.12,77.28 L603.80,77.13 L604.48,76.98 L605.16,76.84 L605.84,76.68 L606.52,76.52 L607.20,76.34 L607.87,76.17 L608.55,75.99 L609.22,75.81 L609.89,75.63 L610.57,75.46 L611.25,75.29 L611.93,75.14 L612.61,74.99 L613.29,74.84 L613.97,74.70 L614.66,74.56 L615.34,74.42 L616.03,74.29 L616.72,74.18 L617.41,74.07 L618.09,73.97 L618.79,73.89 L619.48,73.81 L620.17,73.74 L620.87,73.68 L621.56,73.61 L622.26,73.55 L622.95,73.49 L623.65,73.43 L624.34,73.36 L625.04,73.30 L625.73,73.22 L626.42,73.13 L627.12,73.04 L627.81,72.95 L628.50,72.87 L629.20,72.79 L629.89,72.74 L630.59,72.70 L631.28,72.69 L631.98,72.67 L632.68,72.66 L633.38,72.64 L634.07,72.63 L634.77,72.62 L635.47,72.61 L636.17,72.61 L636.87,72.60 L637.56,72.60 L638.26,72.60 L638.95,72.63 L639.64,72.69 L640.33,72.79 L641.02,72.90 L641.71,73.02 L642.40,73.15 L643.09,73.27 L643.78,73.38 L644.47,73.49 L645.16,73.59 L645.85,73.70 L646.54,73.81 L647.23,73.92 L647.92,74.03 L648.61,74.15 L649.29,74.26 L649.98,74.38 L650.67,74.49 L651.36,74.61 L652.04,74.73 L652.73,74.84 L653.42,74.96 L654.11,75.08 L654.80,75.20 L655.48,75.33 L656.16,75.47 L656.85,75.61 L657.52,75.77 L658.20,75.94 L658.87,76.13 L659.54,76.32 L660.21,76.52 L660.88,76.72 L661.55,76.92 L662.22,77.12 L662.89,77.31 L663.56,77.49 L664.24,77.67 L664.91,77.85 L665.59,78.02 L666.26,78.20 L666.94,78.37 L667.62,78.52 L668.30,78.67 L668.99,78.80 L669.67,78.91 L670.36,79.01 L671.05,79.11 L671.74,79.20 L672.44,79.29 L673.13,79.37 L673.82,79.45 L674.52,79.54 L675.21,79.63 L675.90,79.73 L676.59,79.83 L677.28,79.93 L677.97,80.04 L678.66,80.14 L679.35,80.25 L680.03,80.36 L680.72,80.47 L681.41,80.59 L682.10,80.70" stroke="#E19C24" stroke-width="1.7" stroke-dasharray="6 6.95" fill="none"/>
<path d="M406.60,217.00 L407.30,216.52 L408.00,216.03 L408.70,215.55 L409.41,215.07 L410.11,214.59 L410.82,214.11 L411.52,213.64 L412.23,213.16 L412.93,212.68 L413.64,212.21 L414.35,211.74 L415.06,211.27 L415.78,210.81 L416.50,210.35 L417.22,209.90 L417.94,209.44 L418.66,208.98 L419.38,208.52 L420.08,208.05 L420.79,207.57 L421.48,207.08 L422.16,206.57 L422.84,206.05 L423.51,205.53 L424.18,204.99 L424.82,204.43 L425.44,203.85 L426.03,203.24 L426.56,202.56 L427.08,201.85 L427.61,201.18 L428.19,200.59 L428.85,200.09 L429.57,199.60 L430.33,199.15 L431.12,198.79 L431.92,198.54 L432.73,198.39 L433.55,198.26 L434.39,198.14 L435.25,198.04 L436.11,197.96 L436.98,197.90 L437.84,197.86 L438.69,197.85 L439.54,197.86 L440.39,197.89 L441.23,197.94 L442.08,198.00 L442.93,198.07 L443.78,198.16 L444.63,198.25 L445.48,198.35 L446.33,198.45 L447.17,198.55 L448.02,198.66 L448.87,198.76 L449.71,198.86 L450.56,198.95 L451.41,199.05 L452.25,199.16 L453.09,199.27 L453.94,199.38 L454.78,199.50 L455.62,199.62 L456.47,199.75 L457.31,199.87 L458.15,200.00 L458.99,200.13 L459.84,200.25 L460.68,200.38 L461.52,200.50 L462.36,200.63 L463.21,200.75 L464.05,200.86 L464.89,200.98 L465.74,201.09 L466.58,201.21 L467.42,201.33 L468.27,201.44 L469.11,201.56 L469.96,201.67 L470.80,201.79 L471.64,201.90 L472.49,202.01 L473.33,202.13 L474.18,202.23 L475.02,202.34 L475.86,202.45 L476.71,202.55 L477.56,202.65 L478.40,202.75 L479.25,202.85 L480.09,202.95 L480.94,203.04 L481.79,203.14 L482.63,203.23 L483.48,203.32 L484.32,203.41 L485.17,203.50 L486.02,203.59 L486.87,203.68 L487.71,203.77 L488.56,203.86 L489.41,203.95 L490.25,204.04 L491.10,204.13 L491.95,204.22 L492.79,204.31 L493.64,204.40 L494.49,204.48 L495.34,204.56 L496.18,204.64 L497.03,204.72 L497.88,204.79 L498.73,204.86 L499.58,204.92 L500.43,204.98 L501.27,205.04 L502.12,205.10 L502.97,205.16 L503.82,205.22 L504.67,205.28 L505.52,205.33 L506.37,205.38 L507.22,205.44 L508.07,205.49 L508.92,205.54 L509.77,205.59 L510.62,205.63 L511.47,205.68 L512.32,205.72 L513.18,205.77 L514.03,205.81 L514.88,205.85 L515.73,205.88 L516.58,205.92 L517.43,205.96 L518.28,205.99 L519.13,206.03 L519.98,206.06 L520.83,206.10 L521.68,206.13 L522.53,206.17 L523.38,206.20 L524.24,206.24 L525.09,206.27 L525.94,206.30 L526.79,206.33 L527.64,206.36 L528.49,206.39 L529.34,206.41 L530.19,206.43 L531.05,206.45 L531.90,206.47 L532.75,206.48 L533.60,206.49 L534.45,206.50 L535.30,206.50 L536.15,206.50 L537.00,206.49 L537.85,206.48 L538.71,206.47 L539.56,206.45 L540.41,206.43 L541.26,206.41 L542.11,206.39 L542.96,206.36 L543.81,206.33 L544.66,206.30 L545.52,206.27 L546.37,206.23 L547.22,206.20 L548.07,206.17 L548.92,206.13 L549.77,206.09 L550.62,206.06 L551.47,206.02 L552.32,205.99 L553.17,205.95 L554.02,205.92 L554.88,205.88 L555.73,205.85 L556.58,205.81 L557.43,205.76 L558.28,205.72 L559.13,205.68 L559.98,205.63 L560.83,205.58 L561.68,205.54 L562.53,205.49 L563.38,205.44 L564.23,205.39 L565.08,205.34 L565.93,205.29 L566.78,205.24 L567.63,205.19 L568.48,205.14 L569.33,205.08 L570.18,205.03 L571.03,204.98 L571.88,204.93 L572.73,204.87 L573.58,204.82 L574.43,204.76 L575.28,204.71 L576.13,204.65 L576.98,204.59 L577.83,204.52 L578.68,204.46 L579.52,204.39 L580.37,204.32 L581.22,204.25 L582.07,204.17 L582.91,204.09 L583.76,204.00 L584.61,203.91 L585.45,203.82 L586.30,203.72 L587.15,203.63 L587.99,203.52 L588.84,203.42 L589.68,203.32 L590.53,203.21 L591.37,203.11 L592.22,203.00 L593.06,202.89 L593.91,202.78 L594.75,202.67 L595.60,202.56 L596.44,202.46 L597.29,202.35 L598.13,202.25 L598.98,202.14 L599.82,202.04 L600.67,201.93 L601.51,201.83 L602.36,201.73 L603.20,201.62 L604.05,201.52 L604.89,201.41 L605.74,201.30 L606.58,201.20 L607.43,201.09 L608.27,200.98 L609.12,200.87 L609.96,200.77 L610.81,200.66 L611.65,200.54 L612.49,200.43 L613.34,200.32 L614.18,200.21 L615.03,200.09 L615.87,199.97 L616.71,199.86 L617.55,199.73 L618.40,199.61 L619.24,199.48 L620.08,199.34 L620.92,199.20 L621.76,199.07 L622.60,198.93 L623.44,198.79 L624.28,198.66 L625.12,198.52 L625.97,198.39 L626.81,198.27 L627.65,198.14 L628.49,198.03 L629.34,197.92 L630.18,197.82 L631.03,197.72 L631.87,197.62 L632.72,197.52 L633.57,197.42 L634.41,197.33 L635.26,197.24 L636.11,197.16 L636.96,197.09 L637.81,197.02 L638.65,196.96 L639.50,196.91 L640.35,196.86 L641.20,196.81 L642.06,196.77 L642.91,196.73 L643.76,196.71 L644.61,196.70 L645.46,196.72 L646.31,196.77 L647.16,196.83 L648.01,196.91 L648.85,197.00 L649.71,197.12 L650.56,197.27 L651.40,197.45 L652.22,197.65 L653.02,197.89 L653.80,198.19 L654.58,198.58 L655.32,199.04 L656.03,199.52 L656.68,200.03 L657.30,200.60 L657.88,201.23 L658.43,201.90 L658.97,202.58 L659.49,203.25 L659.99,203.93 L660.48,204.63 L660.95,205.35 L661.41,206.07 L661.86,206.79 L662.30,207.51 L662.74,208.25 L663.16,208.99 L663.58,209.73 L663.98,210.48 L664.39,211.23 L664.80,211.98 L665.20,212.73 L665.59,213.49 L665.96,214.26 L666.28,215.04 L666.56,215.84 L666.81,216.65 L667.04,217.48 L667.27,218.30 L667.51,219.12 L667.76,219.93 L668.01,220.75 L668.26,221.56 L668.51,222.38 L668.74,223.19 L668.96,224.02 L669.17,224.84 L669.37,225.67 L669.57,226.50 L669.76,227.33 L669.96,228.16 L670.16,228.98 L670.37,229.81 L670.56,230.64 L670.76,231.47 L670.94,232.30 L671.12,233.13 L671.29,233.97 L671.45,234.80 L671.62,235.64 L671.79,236.47 L671.98,237.30 L672.17,238.13 L672.36,238.96 L672.55,239.79 L672.72,240.62 L672.89,241.46 L673.04,242.30 L673.19,243.14 L673.33,243.98 L673.48,244.81 L673.63,245.65 L673.78,246.49 L673.94,247.33 L674.10,248.16 L674.26,249.00 L674.43,249.83 L674.60,250.67 L674.77,251.50 L674.95,252.33 L675.13,253.17 L675.30,254.00 L675.47,254.84 L675.64,255.67 L675.81,256.51 L675.98,257.34 L676.15,258.17 L676.31,259.01 L676.48,259.85 L676.64,260.68 L676.80,261.52 L676.95,262.36 L677.11,263.19 L677.25,264.03 L677.40,264.87 L677.54,265.71 L677.68,266.55 L677.82,267.39 L677.95,268.23 L678.09,269.07 L678.22,269.91 L678.35,270.75 L678.48,271.59 L678.60,272.44 L678.72,273.28 L678.85,274.12 L678.96,274.97 L679.08,275.81 L679.19,276.65 L679.30,277.50" stroke="#8FB032" stroke-width="1.7" stroke-dasharray="2.5 1.992" fill="none"/>
</g>
<g>
<text transform="translate(41.90,277.05) scale(1.03,1)" text-anchor="end" font-size="13.6">10<tspan font-size="9.77" dy="-3.5">−</tspan><tspan font-size="9.77" dy="-1.0">6</tspan></text>
<text transform="translate(41.90,189.35) scale(1.03,1)" text-anchor="end" font-size="13.6">10<tspan font-size="9.77" dy="-3.5">−</tspan><tspan font-size="9.77" dy="-1.0">5</tspan></text>
<text transform="translate(41.90,101.65) scale(1.03,1)" text-anchor="end" font-size="13.6">10<tspan font-size="9.77" dy="-3.5">−</tspan><tspan font-size="9.77" dy="-1.0">4</tspan></text>
<text transform="translate(41.90,13.95) scale(1.03,1)" text-anchor="end" font-size="13.6">10<tspan font-size="9.77" dy="-3.5">−</tspan><tspan font-size="9.77" dy="-1.0">3</tspan></text>
<text transform="translate(79.50,291.60) scale(0.94,1)" text-anchor="middle" font-size="14.4">60</text>
<text transform="translate(142.72,291.60) scale(0.94,1)" text-anchor="middle" font-size="14.4">80</text>
<text transform="translate(205.94,291.60) scale(0.94,1)" text-anchor="middle" font-size="14.4">100</text>
<text transform="translate(269.16,291.60) scale(0.94,1)" text-anchor="middle" font-size="14.4">120</text>
<text transform="translate(404.50,277.05) scale(1.03,1)" text-anchor="end" font-size="13.6">10<tspan font-size="9.77" dy="-3.5">−</tspan><tspan font-size="9.77" dy="-1.0">6</tspan></text>
<text transform="translate(404.50,189.35) scale(1.03,1)" text-anchor="end" font-size="13.6">10<tspan font-size="9.77" dy="-3.5">−</tspan><tspan font-size="9.77" dy="-1.0">5</tspan></text>
<text transform="translate(404.50,101.65) scale(1.03,1)" text-anchor="end" font-size="13.6">10<tspan font-size="9.77" dy="-3.5">−</tspan><tspan font-size="9.77" dy="-1.0">4</tspan></text>
<text transform="translate(404.50,13.95) scale(1.03,1)" text-anchor="end" font-size="13.6">10<tspan font-size="9.77" dy="-3.5">−</tspan><tspan font-size="9.77" dy="-1.0">3</tspan></text>
<text transform="translate(441.90,291.60) scale(0.94,1)" text-anchor="middle" font-size="14.4">60</text>
<text transform="translate(505.20,291.60) scale(0.94,1)" text-anchor="middle" font-size="14.4">80</text>
<text transform="translate(568.50,291.60) scale(0.94,1)" text-anchor="middle" font-size="14.4">100</text>
<text transform="translate(631.80,291.60) scale(0.94,1)" text-anchor="middle" font-size="14.4">120</text>
<text transform="translate(9.40,139.00) rotate(-90) scale(1.027,1)" text-anchor="middle" font-size="13.2">d<tspan dx="0.6" font-size="16.5" class="rg">σ</tspan><tspan dx="1.2" font-size="16" dy="1.5" class="sl">/</tspan><tspan dy="-1.5" class="ls1">dcosθ</tspan><tspan dx="-2.2" font-size="8.2" dy="2.7">1</tspan><tspan dy="-2.7"> </tspan><tspan class="u">[</tspan>pb<tspan class="u">]</tspan></text>
<text transform="translate(183.00,310.00)" text-anchor="middle" font-size="13.2">θ<tspan font-size="8.2" dy="2.7">1</tspan><tspan dy="-2.7"> </tspan><tspan class="u">[</tspan>deg<tspan class="u">]</tspan></text>
<text transform="translate(372.00,139.00) rotate(-90) scale(1.027,1)" text-anchor="middle" font-size="13.2">d<tspan dx="0.6" font-size="16.5" class="rg">σ</tspan><tspan dx="1.2" font-size="16" dy="1.5" class="sl">/</tspan><tspan dy="-1.5" class="ls1">dcosθ</tspan><tspan dx="-2.2" font-size="8.2" dy="2.7">2</tspan><tspan dy="-2.7"> </tspan><tspan class="u">[</tspan>pb<tspan class="u">]</tspan></text>
<text transform="translate(545.60,310.00)" text-anchor="middle" font-size="13.2">θ<tspan font-size="8.2" dy="2.7">2</tspan><tspan dy="-2.7"> </tspan><tspan class="u">[</tspan>deg<tspan class="u">]</tspan></text>
<path d="M99.00,123.0 H113.10" stroke="#5E81B5" stroke-width="2" fill="none"/>
<path d="M100.00,145.4 H113.10" stroke="#E19C24" stroke-width="2.3" stroke-dasharray="3.2 3.8" fill="none"/>
<path d="M100.00,168.1 H113.10" stroke="#8FB032" stroke-width="2.1" stroke-dasharray="1.6 2.8" fill="none"/>
<text transform="translate(122.40,125.80) scale(1.055,1)" text-anchor="start" font-size="13.4">g<tspan dx="0.3" font-size="9.7" dy="2.4">aee</tspan><tspan dy="-2.4"> </tspan><tspan dx="0.9" dy="0.8">=</tspan><tspan dy="-0.8"> 0, m </tspan><tspan dy="0.8">=</tspan><tspan dy="-0.8"> 0.3 GeV</tspan></text>
<text transform="translate(122.40,147.80) scale(1.055,1)" text-anchor="start" font-size="13.4">g<tspan dx="0.3" font-size="9.7" dy="2.4">aee</tspan><tspan dy="-2.4"> </tspan><tspan dx="0.9" dy="0.8">=</tspan><tspan dy="-0.8"> 10</tspan><tspan font-size="9.7" dy="-3.8">−</tspan><tspan font-size="9.7" dy="-1.2">4</tspan><tspan dy="5">, m </tspan><tspan dy="0.8">=</tspan><tspan dy="-0.8"> 3 GeV</tspan></text>
<text transform="translate(122.40,170.20) scale(1.055,1)" text-anchor="start" font-size="13.4">g<tspan dx="0.3" font-size="9.7" dy="2.4">aee</tspan><tspan dy="-2.4"> </tspan><tspan dx="0.9" dy="0.8">=</tspan><tspan dy="-0.8"> 10</tspan><tspan font-size="9.7" dy="-3.8">−</tspan><tspan font-size="9.7" dy="-1.2">4</tspan><tspan dy="5">, m </tspan><tspan dy="0.8">=</tspan><tspan dy="-0.8"> 0.3 GeV</tspan></text>
<path d="M461.60,123.0 H475.70" stroke="#5E81B5" stroke-width="2" fill="none"/>
<path d="M462.60,145.4 H475.70" stroke="#E19C24" stroke-width="2.3" stroke-dasharray="3.2 3.8" fill="none"/>
<path d="M462.60,168.1 H475.70" stroke="#8FB032" stroke-width="2.1" stroke-dasharray="1.6 2.8" fill="none"/>
<text transform="translate(485.00,125.80) scale(1.055,1)" text-anchor="start" font-size="13.4">g<tspan dx="0.3" font-size="9.7" dy="2.4">aee</tspan><tspan dy="-2.4"> </tspan><tspan dx="0.9" dy="0.8">=</tspan><tspan dy="-0.8"> 0, m </tspan><tspan dy="0.8">=</tspan><tspan dy="-0.8"> 0.3 GeV</tspan></text>
<text transform="translate(485.00,147.80) scale(1.055,1)" text-anchor="start" font-size="13.4">g<tspan dx="0.3" font-size="9.7" dy="2.4">aee</tspan><tspan dy="-2.4"> </tspan><tspan dx="0.9" dy="0.8">=</tspan><tspan dy="-0.8"> 10</tspan><tspan font-size="9.7" dy="-3.8">−</tspan><tspan font-size="9.7" dy="-1.2">4</tspan><tspan dy="5">, m </tspan><tspan dy="0.8">=</tspan><tspan dy="-0.8"> 3 GeV</tspan></text>
<text transform="translate(485.00,170.20) scale(1.055,1)" text-anchor="start" font-size="13.4">g<tspan dx="0.3" font-size="9.7" dy="2.4">aee</tspan><tspan dy="-2.4"> </tspan><tspan dx="0.9" dy="0.8">=</tspan><tspan dy="-0.8"> 10</tspan><tspan font-size="9.7" dy="-3.8">−</tspan><tspan font-size="9.7" dy="-1.2">4</tspan><tspan dy="5">, m </tspan><tspan dy="0.8">=</tspan><tspan dy="-0.8"> 0.3 GeV</tspan></text>
</g>
</svg>
</body></html>
